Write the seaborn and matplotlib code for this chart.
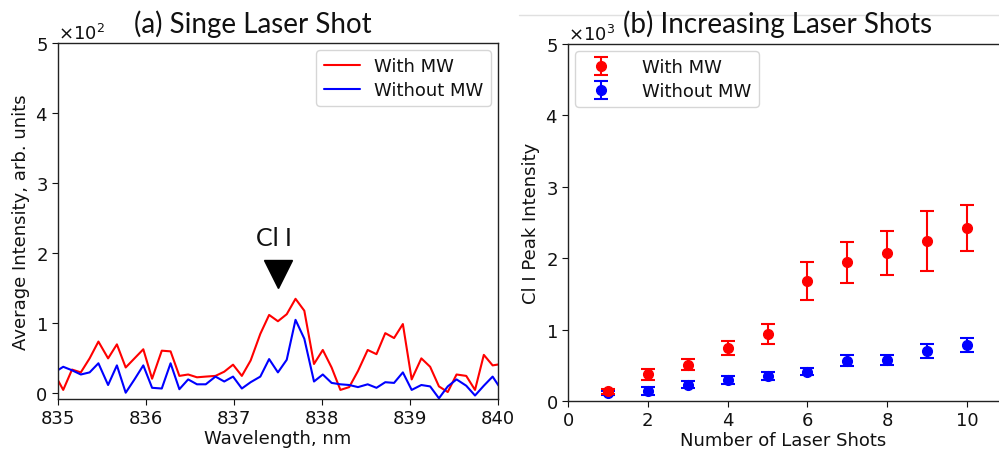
import numpy as np
import pandas as pd
import seaborn as sns
import matplotlib.pyplot as plt
from matplotlib.lines import Line2D

# (a) single shot spectrum around the Cl I line
wavelength = [834.96, 835.06, 835.16, 835.26, 835.36, 835.46, 835.57, 835.67, 835.77, 835.87,
              835.97, 836.07, 836.18, 836.28, 836.38, 836.48, 836.58, 836.68, 836.79, 836.89,
              836.99, 837.09, 837.19, 837.30, 837.40, 837.50, 837.60, 837.70, 837.80, 837.91,
              838.01, 838.11, 838.21, 838.31, 838.41, 838.52, 838.62, 838.72, 838.82, 838.92,
              839.02, 839.13, 839.23, 839.33, 839.43, 839.53, 839.64, 839.74, 839.84, 839.94,
              840.04]
with_mw = [28, 5, 34, 30, 50, 74, 50, 70, 37, 50,
           63, 21, 61, 60, 25, 27, 23, 24, 25, 31,
           41, 25, 47, 85, 112, 103, 113, 135, 118, 42,
           62, 37, 5, 9, 32, 62, 56, 86, 79, 99,
           20, 50, 38, 10, 2, 27, 25, 5, 55, 40,
           42]
without_mw = [30, 38, 33, 27, 30, 43, 12, 40, 1, 20,
              40, 8, 7, 43, 6, 20, 13, 13, 24, 17,
              24, 7, 16, 24, 49, 30, 48, 105, 78, 17,
              27, 15, 13, 12, 9, 13, 8, 16, 15, 30,
              5, 12, 10, -7, 10, 20, 11, -3, 11, 24,
              5]
peak_pos = 837.5
peak_mark = 171

# (b) Cl I peak intensity vs number of shots
shots = [1, 2, 3, 4, 5, 6, 7, 8, 9, 10]
mw_mean = [135, 375, 510, 740, 940, 1680, 1940, 2075, 2245, 2420]
mw_err = [35, 80, 80, 100, 140, 260, 285, 310, 420, 325]
nomw_mean = [110, 140, 230, 300, 350, 410, 565, 575, 700, 780]
nomw_err = [25, 50, 50, 55, 60, 50, 80, 75, 95, 100]

sns.set_style('ticks')
plt.rcParams['font.family'] = ['DejaVu Sans']
plt.rcParams['axes.edgecolor'] = '#222222'
plt.rcParams['axes.linewidth'] = 1.0
plt.rcParams['text.color'] = '#111111'
plt.rcParams['axes.labelcolor'] = '#111111'
plt.rcParams['xtick.color'] = '#111111'
plt.rcParams['ytick.color'] = '#111111'

fig = plt.figure(figsize=(9.99, 4.52), dpi=100)
ax1 = fig.add_axes([0.058, 0.115, 0.4404, 0.7876])
ax2 = fig.add_axes([0.5686, 0.1106, 0.4314, 0.7898])

spec = pd.DataFrame({'wl': wavelength, 'with': with_mw, 'without': without_mw})
sns.lineplot(data=spec, x='wl', y='with', color='#ff0000', lw=1.5, label='With MW', ax=ax1)
sns.lineplot(data=spec, x='wl', y='without', color='#0000ff', lw=1.5, label='Without MW', ax=ax1)
ax1.plot([peak_pos], [peak_mark], marker='v', ms=20, color='black', ls='none')
ax1.text(peak_pos - 0.04, 206, 'Cl I', ha='center', va='bottom', fontsize=18, family='Lato')

ax1.set_xlim(835, 840)
ax1.set_ylim(-8, 500)
ax1.set_xticks([835, 836, 837, 838, 839, 840])
ax1.set_yticks([0, 100, 200, 300, 400, 500])
ax1.ticklabel_format(axis='y', style='sci', scilimits=(0, 0), useMathText=True)
ax1.set_xlabel('Wavelength, nm', fontsize=13, labelpad=1)
ax1.set_ylabel('Average Intensity, arb. units', fontsize=13, labelpad=4)
ax1.tick_params(labelsize=13, length=4)
ax1.yaxis.get_offset_text().set_fontsize(13)
ax1.legend(loc='upper right', fontsize=13, frameon=True, borderaxespad=0.4,
           handlelength=2.0, labelspacing=0.3)

ax2.errorbar(shots, nomw_mean, yerr=nomw_err, fmt='o', color='#0000ff', ms=7,
             capsize=5, elinewidth=1.5, capthick=1.5, label='Without MW', zorder=3)
ax2.errorbar(shots, mw_mean, yerr=mw_err, fmt='o', color='#ff0000', ms=7,
             capsize=5, elinewidth=1.5, capthick=1.5, label='With MW', zorder=4)
ax2.set_xlim(0, 10.8)
ax2.set_ylim(0, 5000)
ax2.set_xticks([0, 2, 4, 6, 8, 10])
ax2.set_yticks([0, 1000, 2000, 3000, 4000, 5000])
ax2.ticklabel_format(axis='y', style='sci', scilimits=(0, 0), useMathText=True)
ax2.set_xlabel('Number of Laser Shots', fontsize=13, labelpad=1)
ax2.set_ylabel('Cl I Peak Intensity', fontsize=13, labelpad=4)
ax2.tick_params(labelsize=13, length=4)
ax2.yaxis.get_offset_text().set_fontsize(13)
ax2.spines['right'].set_visible(False)
h, l = ax2.get_legend_handles_labels()
ax2.legend(h[::-1], l[::-1], loc='upper left', fontsize=13, frameon=True,
           borderaxespad=0.4, labelspacing=0.3, handletextpad=1.3)

fig.text(0.253, 0.947, '(a) Singe Laser Shot', ha='center', va='center', fontsize=20, family='Lato')
fig.text(0.778, 0.947, '(b) Increasing Laser Shots', ha='center', va='center', fontsize=20, family='Lato')
fig.add_artist(Line2D([0.52, 1.0], [0.964, 0.964], color='#e0e0e0', lw=1))

fig.savefig('out.png', dpi=100)
